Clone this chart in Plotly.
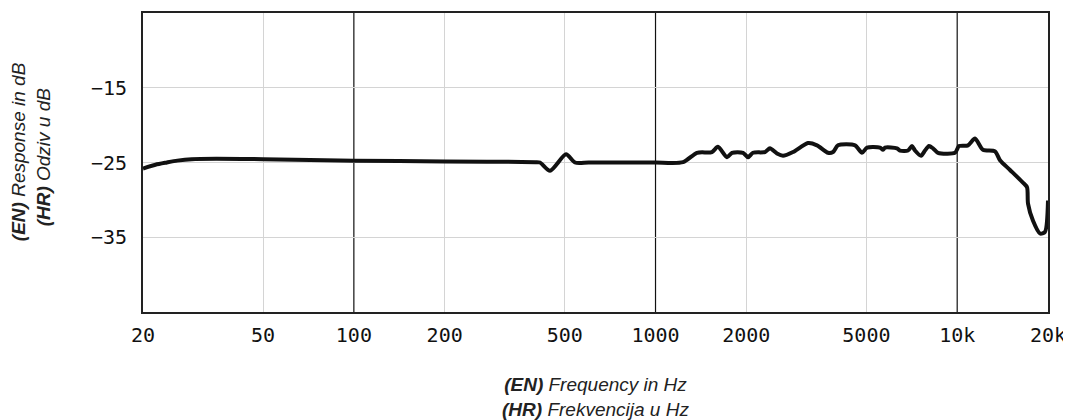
import plotly.graph_objects as go
import math

# ---- data ----
freq_hz = [20, 22, 24, 26, 29, 35, 50, 100, 200, 400, 414, 447, 505, 541, 600, 800, 1000,
           1234, 1372, 1538, 1610, 1726, 1793, 1950, 2026, 2104, 2306, 2395, 2527,
           2646, 2856, 3202, 3430, 3730, 3876, 4026, 4584, 4836, 5024, 5546, 5676,
           5764, 6316, 6462, 6868, 7082, 7246, 7586, 7822, 8064, 8314, 8636, 9832,
           10140, 10860, 11456, 12178, 13346, 13864, 14964, 16520, 17040, 17170,
           17840, 18820, 19540, 20000]
response_db = [-25.8, -25.3, -25.0, -24.75, -24.55, -24.5, -24.55, -24.75, -24.85, -24.95,
               -25.0, -26.1, -23.9, -25.0, -25.0, -25.0, -25.0,
               -24.95, -23.7, -23.6, -22.9, -24.3, -23.7, -23.7, -24.3, -23.7, -23.6, -23.1, -23.8,
               -24.1, -23.6, -22.4, -22.7, -23.7, -23.6, -22.7, -22.7, -23.7, -23.0, -23.0, -23.3,
               -23.0, -23.1, -23.4, -23.4, -22.8, -23.4, -24.1, -23.4, -22.8, -23.1, -23.7, -23.7,
               -22.8, -22.7, -21.8, -23.3, -23.5, -24.7, -26.0, -27.7, -28.3, -30.5,
               -32.8, -34.5, -34.3, -30.1]

x_tick_vals = [20, 50, 100, 200, 500, 1000, 2000, 5000, 10000, 20000]
x_tick_text = ["20", "50", "100", "200", "500", "1000", "2000", "5000", "10k", "20k"]
light_grid_vals = [50, 200, 500, 2000, 5000]
decade_lines = [100, 1000, 10000]
y_tick_vals = [-15, -25, -35]
y_range = [-45, -5]
x_range_hz = [20, 20000]

fig = go.Figure()
fig.add_trace(go.Scatter(
    x=freq_hz, y=response_db, mode="lines",
    line=dict(color="#111111", width=4, shape="spline", smoothing=0.7),
    hoverinfo="skip", showlegend=False,
))

for f in decade_lines:
    fig.add_shape(type="line", xref="x", yref="y domain", x0=f, x1=f, y0=0, y1=1,
                  line=dict(color="#111111", width=1.2), layer="below")

tick_font = dict(family="DejaVu Sans Mono", size=20, color="#111111")
nb = "&nbsp;"

fig.update_xaxes(
    type="log", range=[math.log10(x_range_hz[0]), math.log10(x_range_hz[1])],
    tickmode="array", tickvals=x_tick_vals, ticktext=x_tick_text,
    showgrid=False,
    minor=dict(tickmode="array", tickvals=light_grid_vals, showgrid=True,
               gridcolor="#d4d4d4", gridwidth=1, ticks=""),
    showline=True, linecolor="#222222", linewidth=2, mirror=True,
    ticks="", tickfont=tick_font, zeroline=False, automargin=False,
    ticklabelstandoff=4,
    title=dict(text="<b><i>(EN)</i></b><i> Frequency in Hz</i><br><b><i>(HR)</i></b><i> Frekvencija u Hz</i>",
               font=dict(family="Liberation Sans, Arial", size=19, color="#222222"), standoff=32),
)
fig.update_yaxes(
    range=y_range, tickmode="array", tickvals=y_tick_vals,
    showgrid=True, gridcolor="#d4d4d4", gridwidth=1,
    showline=True, linecolor="#222222", linewidth=2, mirror=True,
    ticks="", tickfont=tick_font, zeroline=False, automargin=False,
    ticklabelstandoff=10,
    title=dict(text=nb * 4 + "<b><i>(EN)</i></b><i> Response in dB</i><br>" + nb * 2
               + "<b><i>(HR)</i></b><i> Odziv u dB</i>",
               font=dict(family="Liberation Sans, Arial", size=19, color="#222222"), standoff=40),
)

fig.update_layout(
    width=1071, height=420, autosize=False,
    margin=dict(l=135, r=31, t=5, b=116),
    paper_bgcolor="white", plot_bgcolor="white",
)

fig.write_html("out.html")
